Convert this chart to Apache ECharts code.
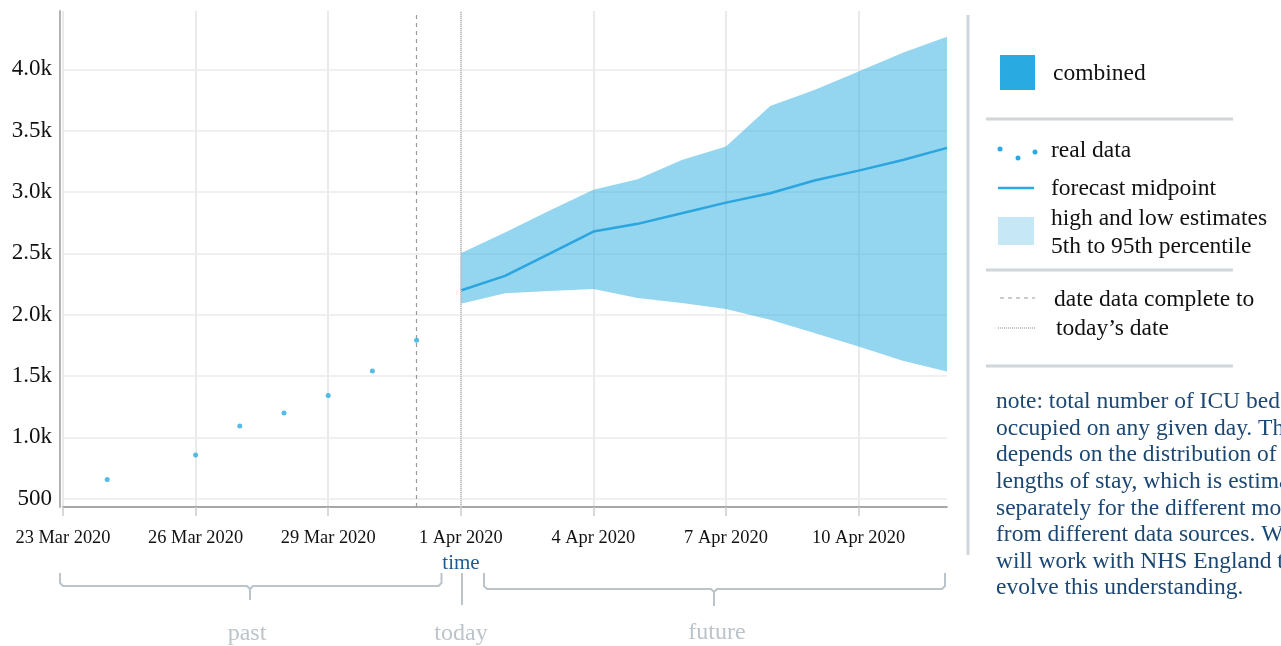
<!DOCTYPE html>
<html>
<head>
<meta charset="utf-8">
<script src="https://cdn.jsdelivr.net/npm/echarts@6/dist/echarts.min.js"></script>
<style>
  html, body { margin: 0; padding: 0; background: #ffffff; }
  #chart { width: 1281px; height: 646px; }
</style>
</head>
<body>
<div id="chart"></div>
<script>
// Daily dates shown on the time axis (23 Mar – 12 Apr 2020)
const dates = [
  '23 Mar 2020', '24 Mar 2020', '25 Mar 2020', '26 Mar 2020', '27 Mar 2020',
  '28 Mar 2020', '29 Mar 2020', '30 Mar 2020', '31 Mar 2020', '1 Apr 2020',
  '2 Apr 2020', '3 Apr 2020', '4 Apr 2020', '5 Apr 2020', '6 Apr 2020',
  '7 Apr 2020', '8 Apr 2020', '9 Apr 2020', '10 Apr 2020', '11 Apr 2020',
  '12 Apr 2020'
];

// Observed ICU beds occupied
const realDates = ['24 Mar 2020', '26 Mar 2020', '27 Mar 2020', '28 Mar 2020',
                   '29 Mar 2020', '30 Mar 2020', '31 Mar 2020'];
const realValues = [657, 856, 1092, 1198, 1341, 1540, 1792];

// Forecast from today onwards
const forecastDates = ['1 Apr 2020', '2 Apr 2020', '3 Apr 2020', '4 Apr 2020',
                       '5 Apr 2020', '6 Apr 2020', '7 Apr 2020', '8 Apr 2020',
                       '9 Apr 2020', '10 Apr 2020', '11 Apr 2020', '12 Apr 2020'];
const forecastMid   = [2197, 2316, 2496, 2677, 2740, 2826, 2913, 2990, 3093, 3174, 3261, 3359];
const forecastHigh  = [2501, 2670, 2846, 3017, 3104, 3261, 3370, 3701, 3831, 3982, 4135, 4265];
const forecastLow   = [2088, 2175, 2192, 2208, 2135, 2094, 2045, 1958, 1850, 1741, 1625, 1537];

// Value-axis ticks and their labels
const yTicks      = [500, 1000, 1500, 2000, 2500, 3000, 3500, 4000];
const yTickLabels = ['500', '1.0k', '1.5k', '2.0k', '2.5k', '3.0k', '3.5k', '4.0k'];

const dataCompleteDate = '31 Mar 2020';
const todayDate = '1 Apr 2020';

const noteLines = [
  'note: total number of ICU beds',
  'occupied on any given day. This',
  'depends on the distribution of',
  'lengths of stay, which is estimated',
  'separately for the different models',
  'from different data sources. We',
  'will work with NHS England to',
  'evolve this understanding.'
];

const SERIF = '"Liberation Serif", "DejaVu Serif", serif';
const BLUE = '#29abe2';
const GREY_UI = '#bcc4cb';

const realPoints = realDates.map((d, i) => [d, realValues[i]]);
const midPoints  = forecastDates.map((d, i) => [d, forecastMid[i]]);
const lowPoints  = forecastDates.map((d, i) => [d, forecastLow[i]]);
const spanPoints = forecastDates.map((d, i) => [d, forecastHigh[i] - forecastLow[i]]);

const chart = echarts.init(document.getElementById('chart'), null, { renderer: 'canvas' });

// Legend, braces and notes drawn as graphic elements
function txt(x, y, text, size, color, align) {
  return {
    type: 'text', x: x, y: y, silent: true,
    style: {
      text: text, font: size + 'px ' + SERIF, fill: color,
      textAlign: align || 'left', textVerticalAlign: 'middle'
    }
  };
}
function seg(x1, y1, x2, y2, color, width, dash) {
  return {
    type: 'line', silent: true,
    shape: { x1: x1, y1: y1, x2: x2, y2: y2 },
    style: { stroke: color, lineWidth: width, lineDash: dash || null }
  };
}
function poly(points, color, width) {
  return {
    type: 'polyline', silent: true,
    shape: { points: points },
    style: { stroke: color, lineWidth: width, fill: null }
  };
}

const graphics = [
  // legend panel divider
  seg(968, 15, 968, 555, '#cfd6dc', 3),
  // combined
  { type: 'rect', silent: true, shape: { x: 1000, y: 55, width: 35, height: 35 }, style: { fill: BLUE } },
  txt(1053, 74, 'combined', 23.5, '#111'),
  seg(986, 119, 1233, 119, '#cfd6dc', 3),
  // real data
  { type: 'circle', silent: true, shape: { cx: 1000, cy: 149, r: 2.5 }, style: { fill: BLUE } },
  { type: 'circle', silent: true, shape: { cx: 1018, cy: 158, r: 2.5 }, style: { fill: BLUE } },
  { type: 'circle', silent: true, shape: { cx: 1035, cy: 152, r: 2.5 }, style: { fill: BLUE } },
  txt(1051, 151, 'real data', 23.5, '#111'),
  // forecast midpoint
  seg(998, 188, 1034, 188, BLUE, 2.5),
  txt(1051, 189, 'forecast midpoint', 23.5, '#111'),
  // high and low estimates
  { type: 'rect', silent: true, shape: { x: 998, y: 217, width: 36, height: 28 }, style: { fill: '#c6e7f5' } },
  txt(1051, 219, 'high and low estimates', 23.5, '#111'),
  txt(1051, 247, '5th to 95th percentile', 23.5, '#111'),
  seg(986, 270, 1233, 270, '#cfd6dc', 3),
  // reference lines
  seg(1000, 298, 1035, 298, '#9a9a9a', 1.2, [4, 4]),
  txt(1054, 300, 'date data complete to', 23.5, '#111'),
  seg(998, 328, 1036, 328, '#c4c4c4', 2, [1, 1]),
  txt(1056, 329, 'today\u2019s date', 23.5, '#111'),
  seg(986, 366, 1233, 366, '#cfd6dc', 3),
  // axis title
  txt(461, 563, 'time', 21, '#1f5c93', 'center'),
  // past brace
  poly([[60, 573], [60, 583], [63, 586], [247, 586], [250, 589], [250, 600]], GREY_UI, 2),
  poly([[441.5, 573], [441.5, 583], [438.5, 586], [253, 586], [250, 589]], GREY_UI, 2),
  // today marker
  seg(462, 573, 462, 605, GREY_UI, 2),
  // future brace
  poly([[484, 573], [484, 586], [487, 589], [711, 589], [714, 592], [714, 606]], GREY_UI, 2),
  poly([[945, 573], [945, 586], [942, 589], [717, 589], [714, 592]], GREY_UI, 2),
  txt(247, 634, 'past', 24, GREY_UI, 'center'),
  txt(461, 634, 'today', 24, GREY_UI, 'center'),
  txt(717, 633, 'future', 24, GREY_UI, 'center')
];
noteLines.forEach((line, i) => {
  graphics.push(txt(996, 402 + i * 26.6, line, 23.5, '#1b4772'));
});

const option = {
  animation: false,
  backgroundColor: '#ffffff',
  grid: { left: 63, right: 334, top: 11, bottom: 139, containLabel: false, outerBoundsMode: 'none' },
  xAxis: {
    type: 'category',
    data: dates,
    boundaryGap: false,
    axisLine: { show: true, lineStyle: { color: '#8a8a8a', width: 1.5 } },
    axisTick: { show: true, interval: 2, length: 9, lineStyle: { color: '#cccccc', width: 1.5 } },
    axisLabel: {
      interval: 2, margin: 22, hideOverlap: false,
      color: '#111', fontFamily: SERIF, fontSize: 18.4
    },
    splitLine: { show: true, interval: 2, lineStyle: { color: '#e3e3e3', width: 1.5 } }
  },
  yAxis: {
    type: 'value',
    min: 432,
    max: 4475,
    offset: 3,
    axisLine: { show: true, lineStyle: { color: '#b3b3b3', width: 2 } },
    axisTick: { show: false },
    splitLine: { show: false },
    axisLabel: {
      customValues: yTicks,
      margin: 8,
      color: '#111', fontFamily: SERIF, fontSize: 23,
      formatter: v => {
        const i = yTicks.indexOf(v);
        return i >= 0 ? yTickLabels[i] : '';
      }
    }
  },
  series: [
    {
      // horizontal gridlines at the labelled values
      type: 'line', data: [], z: 1, silent: true,
      markLine: {
        z: 1, silent: true, symbol: 'none', animation: false,
        label: { show: false },
        lineStyle: { color: '#ebebeb', width: 1.5, type: 'solid' },
        emphasis: { disabled: true },
        data: yTicks.map(v => ({ yAxis: v }))
      }
    },
    {
      // reference lines: data complete to / today
      type: 'line', data: [], z: 3, silent: true,
      markLine: {
        silent: true, symbol: 'none', animation: false,
        label: { show: false },
        emphasis: { disabled: true },
        data: [
          { xAxis: dataCompleteDate, lineStyle: { color: '#9a9a9a', width: 1.2, type: [4, 4] } },
          { xAxis: todayDate, lineStyle: { color: '#c4c4c4', width: 2, type: [1, 1] } }
        ]
      }
    },
    {
      name: 'low', type: 'line', stack: 'band', data: lowPoints, z: 2,
      symbol: 'none', silent: true,
      lineStyle: { opacity: 0 }
    },
    {
      name: 'high and low estimates', type: 'line', stack: 'band', data: spanPoints, z: 2,
      symbol: 'none', silent: true,
      lineStyle: { opacity: 0 },
      areaStyle: { color: BLUE, opacity: 0.5 }
    },
    {
      name: 'forecast midpoint', type: 'line', data: midPoints, z: 4,
      symbol: 'none', silent: true,
      lineStyle: { color: '#2aa5de', width: 2.5 }
    },
    {
      name: 'real data', type: 'scatter', data: realPoints, z: 5,
      symbolSize: 5, silent: true,
      itemStyle: { color: BLUE }
    }
  ],
  graphic: graphics
};

chart.setOption(option);
</script>
</body>
</html>
